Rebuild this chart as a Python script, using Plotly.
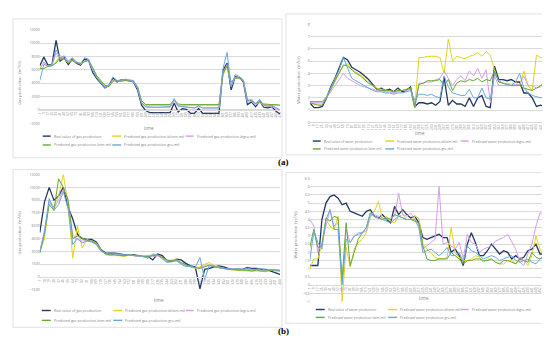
import plotly.graph_objects as go

W, H = 550, 338
def fx(px): return px / W
def fy(py): return 1 - py / H

# ---------------- data ----------------
time_a = [str(1 + 8 * i) for i in range(60)]
gas_a_real = [6600, 7900, 6700, 6800, 10400, 7300, 7800, 6800, 7600, 7000, 6700, 7600, 7400, 5600, 4700, 4000, 3300, 3700, 4800, 4200,
              4500, 4500, 4400, 4200, 3000, 700, -100, -400, -400, -400, -400, -400, -400, 1000, -300, 200, 100, -500, -500, 200,
              -500, -500, -500, -500, -500, 5900, 7000, 3000, 5000, 4800, 4200, 800, 1200, 500, 1300, 400, 300, 500, -200, -600]
gas_a_bilstm = [6300, 7000, 6600, 6700, 7200, 8200, 7500, 7200, 7300, 7200, 6900, 7300, 7500, 6200, 5000, 4300, 3600, 3600, 4400, 4400,
                4300, 4500, 4400, 4300, 3400, 1300, 700, 700, 700, 700, 700, 700, 700, 1300, 700, 700, 700, 700, 700, 700,
                700, 700, 700, 700, 700, 5200, 6500, 4000, 4800, 4800, 4300, 1400, 1300, 900, 1100, 800, 700, 700, 700, 700]
gas_a_bigru = [6000, 7200, 6500, 6700, 8500, 7600, 7700, 7000, 7500, 7100, 6800, 7400, 7400, 5900, 4900, 4200, 3500, 3600, 4500, 4300,
               4400, 4400, 4400, 4200, 3200, 1000, 400, 400, 400, 400, 400, 400, 400, 1300, 500, 500, 400, 300, 300, 500,
               300, 300, 300, 300, 300, 5500, 6800, 3500, 4900, 4700, 4300, 1100, 1300, 700, 1200, 600, 500, 500, 200, -100]
gas_a_lstm = [6200, 6200, 6500, 6600, 7000, 7800, 7600, 7100, 7400, 7000, 7000, 7200, 7400, 6300, 5100, 4400, 3700, 3500, 4300, 4400,
              4300, 4400, 4400, 4300, 3500, 1400, 800, 800, 800, 800, 800, 800, 800, 1500, 900, 800, 800, 800, 800, 800,
              800, 800, 800, 800, 800, 5400, 6600, 4200, 4700, 4800, 4400, 1500, 1400, 1000, 1200, 900, 800, 800, 800, 700]
gas_a_gru = [4400, 6800, 6600, 6800, 9000, 7800, 8100, 7300, 7800, 7200, 6900, 7800, 7600, 6000, 4800, 4100, 3300, 3800, 4900, 4400,
             4500, 4600, 4500, 4400, 3300, 1100, 500, 400, 400, 400, 400, 400, 500, 1700, 600, 500, 400, 300, 300, 600,
             300, 300, 300, 300, 300, 6200, 8600, 3500, 5300, 5000, 4500, 1300, 1600, 900, 1600, 700, 600, 700, 400, 0]

time_b = [str(1 + 8 * i) for i in range(58)]
water_b_real = [1.6, 1.2, 1.2, 1.3, 2.0, 2.9, 3.6, 4.4, 5.3, 5.1, 4.5, 4.3, 4.1, 3.8, 3.5, 3.1, 2.7, 2.8, 2.6, 2.7,
                2.5, 2.8, 2.5, 2.6, 2.9, 1.3, 1.6, 1.6, 1.5, 1.6, 1.4, 1.7, 3.7, 1.4, 1.8, 1.5, 1.5, 1.3, 2.0, 1.3,
                2.0, 2.2, 1.3, 1.2, 4.6, 3.5, 3.5, 3.4, 3.5, 3.3, 3.3, 2.4, 2.4, 2.0, 1.3, 1.4, 1.3, 1.3]
water_b_bilstm = [1.6, 1.5, 1.5, 1.5, 2.0, 2.6, 3.3, 4.0, 4.6, 4.8, 4.3, 4.1, 3.9, 3.6, 3.3, 3.0, 2.8, 2.7, 2.6, 2.6,
                  2.5, 2.6, 2.6, 2.7, 2.8, 1.2, 5.3, 5.3, 5.4, 5.4, 5.4, 5.3, 4.0, 6.8, 5.0, 5.4, 5.3, 5.2, 5.4, 5.5,
                  5.7, 5.4, 5.8, 5.5, 4.3, 3.3, 3.2, 3.2, 3.1, 3.3, 3.0, 4.2, 3.0, 2.6, 5.5, 5.3, 5.3, 5.1]
water_b_bigru = [1.6, 1.6, 1.6, 1.6, 2.0, 2.5, 3.1, 3.6, 4.0, 3.6, 3.4, 3.2, 3.0, 2.9, 2.8, 2.7, 2.6, 2.6, 2.5, 2.5,
                 2.4, 2.5, 2.6, 2.6, 2.7, 1.2, 3.2, 3.2, 3.3, 3.3, 3.5, 3.6, 4.2, 3.6, 3.0, 3.5, 3.8, 3.4, 4.2, 3.8,
                 4.4, 3.6, 4.3, 1.6, 3.8, 3.0, 3.0, 3.0, 3.0, 3.1, 3.1, 3.8, 3.0, 3.0, 2.8, 2.9, 3.2, 3.5]
water_b_lstm = [1.6, 1.5, 1.4, 1.4, 2.0, 2.7, 3.4, 4.1, 4.7, 4.6, 4.3, 4.0, 3.8, 3.5, 3.2, 3.0, 2.7, 2.6, 2.6, 2.6,
                2.5, 2.6, 2.6, 2.7, 2.8, 1.2, 3.1, 3.2, 3.4, 3.4, 3.4, 3.5, 3.0, 3.5, 2.6, 3.2, 3.4, 3.3, 3.5, 3.4,
                3.6, 3.3, 3.5, 3.4, 4.2, 3.3, 3.2, 3.1, 3.0, 3.0, 3.0, 2.8, 2.7, 2.6, 2.8, 3.0, 3.3, 3.5]
water_b_gru = [1.7, 1.7, 1.7, 1.7, 2.1, 2.8, 3.5, 4.3, 5.3, 4.5, 3.6, 3.4, 3.2, 3.0, 2.8, 2.6, 2.5, 2.5, 2.4, 2.4,
               2.3, 2.4, 2.4, 2.5, 2.6, 1.8, 2.3, 2.3, 2.2, 2.3, 2.1, 2.0, 3.8, 2.9, 2.4, 2.3, 2.2, 2.2, 2.7, 2.0,
               2.0, 2.8, 2.0, 1.9, 4.0, 3.4, 3.2, 3.1, 3.0, 3.3, 4.0, 2.8, 2.4, 2.2, 2.1, 2.0, 2.1, 2.2]

time_c = [str(1 + 9 * i) for i in range(52)]
gas_c_real = [5200, 8800, 10500, 9000, 9500, 10500, 8200, 6800, 5000, 4500, 4400, 4400, 4100, 3200, 2800, 2800, 2800, 2700, 2600, 2600,
              2600, 2500, 2400, 2400, 2000, 2700, 2500, 1900, 1800, 2100, 2000, 1600, 1300, 1200, -1400, 900, 1000, 1200, 1300, 1200,
              1000, 900, 900, 900, 1100, 1000, 1000, 900, 900, 700, 500, 300]
gas_c_bilstm = [3000, 4500, 9000, 8200, 9500, 12000, 8500, 2200, 6000, 3400, 4400, 4200, 4000, 3200, 2600, 2500, 2500, 2500, 2400, 2600,
                2500, 2400, 2500, 2500, 2600, 2500, 2200, 1900, 2000, 2100, 1600, 1300, 1200, 1000, 1200, 1500, 1700, 1300, 1200, 1000,
                900, 800, 800, 800, 700, 700, 700, 700, 600, 800, 900, 800]
gas_c_bigru = [2900, 5500, 8800, 8000, 9000, 10300, 9200, 5000, 4400, 4200, 4300, 4200, 3900, 3100, 2700, 2600, 2700, 2600, 2500, 2600,
               2500, 2400, 2400, 2500, 2400, 2500, 2200, 1900, 1900, 1900, 1600, 1400, 1200, 1100, 1100, 1300, 1300, 1200, 1100, 1000,
               900, 1000, 900, 900, 900, 800, 900, 800, 800, 800, 700, 700]
gas_c_lstm = [2800, 5000, 8500, 7800, 11500, 10500, 9000, 4500, 4800, 4500, 4300, 4200, 3900, 3100, 2700, 2600, 2600, 2500, 2500, 2600,
              2500, 2500, 2400, 2400, 2500, 2600, 2300, 2000, 1900, 2000, 1700, 1400, 1200, 1100, 1000, 1200, 1400, 1200, 1100, 1000,
              900, 900, 800, 800, 800, 700, 800, 700, 700, 800, 800, 700]
gas_c_gru = [3000, 5200, 9200, 7800, 8500, 10000, 8000, 3800, 4500, 4000, 4200, 4100, 3800, 3000, 2800, 2700, 2700, 2700, 2600, 2600,
             2500, 2500, 2400, 2200, 2700, 2600, 2100, 1700, 1800, 1900, 1500, 1200, 1300, 1100, 2300, -300, 1400, 1300, 1100, 1000,
             1000, 900, 1000, 900, 1000, 900, 900, 1000, 800, 900, 800, 800]

time_d = [str(1 + 8 * i) for i in range(60)]
water_d_real = [1.2, 1.2, 1.2, 4.0, 5.0, 5.4, 5.5, 5.3, 4.9, 5.0, 4.5, 4.4, 4.3, 4.2, 4.5, 4.6, 4.2, 4.1, 4.3, 4.0,
                3.8, 4.8, 4.3, 4.6, 4.3, 4.1, 4.2, 3.8, 2.9, 2.8, 2.9, 3.0, 3.1, 2.9, 2.9, 2.0, 2.2, 1.8, 1.2, 2.5,
                3.2, 2.6, 1.8, 1.8, 2.1, 2.5, 2.2, 1.9, 2.1, 2.0, 1.6, 1.8, 1.6, 1.7, 2.1, 2.2, 2.5, 1.9, 1.9, 1.6]
water_d_bilstm = [1.0, 1.6, 1.6, 2.5, 4.0, 3.6, 3.4, 4.2, -1.0, 2.3, 1.1, 2.2, 2.6, 2.8, 3.2, 4.2, 4.5, 5.1, 4.0, 4.2,
                  3.9, 3.8, 4.2, 4.3, 4.0, 4.0, 4.2, 4.1, 2.5, 2.2, 2.0, 1.7, 1.6, 1.6, 1.7, 3.5, 2.0, 1.7, 1.5, 1.5,
                  1.6, 1.8, 1.7, 1.4, 1.6, 1.6, 1.4, 1.3, 1.3, 1.5, 1.5, 1.3, 1.7, 1.5, 1.2, 1.8, 3.0, 2.2, 1.7, 3.3]
water_d_bigru = [4.0, 3.6, 2.0, 2.6, 3.6, 4.6, 3.6, 3.8, 0.2, 3.4, 2.6, 3.0, 3.2, 3.2, 3.3, 4.2, 4.3, 4.2, 4.1, 4.0,
                 4.1, 4.2, 5.6, 4.3, 4.2, 4.4, 4.0, 3.7, 2.2, 2.4, 2.6, 2.8, 6.0, 2.5, 2.6, 2.4, 2.2, 2.6, 1.6, 3.1,
                 2.6, 2.5, 2.0, 2.2, 2.3, 2.4, 2.7, 2.8, 2.9, 3.1, 2.6, 2.2, 1.4, 1.2, 1.9, 2.5, 3.6, 4.4, 4.4, 4.3]
water_d_lstm = [2.3, 3.4, 2.3, 2.4, 4.1, 3.9, 4.2, 4.1, 0.3, 3.8, 1.2, 2.0, 2.8, 3.2, 3.5, 4.4, 4.2, 4.1, 4.0, 4.1,
                4.0, 4.3, 4.2, 4.1, 4.0, 4.0, 3.9, 3.8, 2.4, 1.6, 1.5, 1.5, 1.6, 1.6, 1.6, 2.0, 1.8, 1.6, 1.3, 1.5,
                1.5, 1.6, 1.6, 1.5, 1.5, 1.6, 1.4, 1.3, 1.5, 1.5, 1.4, 1.3, 1.6, 1.5, 1.4, 2.0, 1.7, 1.6, 1.8, 1.7]
water_d_gru = [1.5, 3.3, 2.6, 2.2, 4.0, 4.6, 3.4, 3.4, 0.0, 2.8, 2.6, 3.0, 3.1, 3.2, 3.5, 4.4, 4.2, 4.1, 4.0, 3.9,
               3.8, 4.0, 4.2, 4.1, 4.0, 4.0, 4.0, 3.5, 2.0, 2.1, 2.2, 2.0, 1.8, 2.0, 2.3, 1.8, 1.8, 2.0, 1.4, 2.4,
               2.1, 2.0, 1.8, 1.6, 1.7, 1.8, 1.7, 1.5, 1.6, 1.7, 1.8, 1.5, 1.4, 1.5, 1.6, 1.4, 1.3, 1.6, 1.7, 1.4]

names_gas = ["Real value of gas production", "Predicted gas production-bilstm-mtl",
             "Predicted gas production-bigru-mtl", "Predicted gas production-lstm-mtl",
             "Predicted gas production-gru-mtl"]
names_water = ["Real value of water production", "Predicted water production-bilstm-mtl",
               "Predicted water production-bigru-mtl", "Predicted water production-lstm-mtl",
               "Predicted water production-gru-mtl"]

# ---------------- styling ----------------
COLORS = ["#203864", "#e2d31f", "#d59fe8", "#63a832", "#6aa7dc"]
WIDTHS = [1.3, 1.0, 1.0, 1.0, 1.0]
GRID = "#d9d9d9"
TXT = "#7f7f7f"
FONT = "Open Sans"

panels = [
    dict(times=time_a, series=[gas_a_real, gas_a_bilstm, gas_a_bigru, gas_a_lstm, gas_a_gru], names=names_gas,
         x0=30, x1=272, ytop=19, ybot=114, rng=[-2000, 12000], dtick=2000, fmt="d",
         ytitle="Gas production（m³/d）", ytx=10, yty=72, timexy=(140, 119),
         box=(3, 8, 274, 149), lsize=3.6,
         leg=[(33, 41, 42, 127), (103, 112, 113, 127), (177, 185, 186, 127), (33, 41, 42, 136), (103, 112, 113, 136)]),
    dict(times=time_b, series=[water_b_real, water_b_bilstm, water_b_bigru, water_b_lstm, water_b_gru], names=names_water,
         x0=302, x1=543, ytop=13.7, ybot=113, rng=[0, 8], dtick=1, fmt="",
         ytitle="Water production（m³/d）", ytx=291, yty=69, timexy=(413, 124),
         box=(278, 3, 548, 146), lsize=3.4,
         leg=[(305, 313, 314, 132), (378, 387, 388, 132), (454, 462, 463, 132), (305, 313, 314, 140), (378, 387, 388, 140)]),
    dict(times=time_c, series=[gas_c_real, gas_c_bilstm, gas_c_bigru, gas_c_lstm, gas_c_gru], names=names_gas,
         x0=30, x1=272, ytop=166, ybot=283, rng=[-1500, 12000], dtick=1500, fmt="d",
         ytitle="Gas production（m³/d）", ytx=10, yty=224, timexy=(150, 293),
         box=(3, 161, 274, 321), lsize=3.6,
         leg=[(32, 41, 42, 304), (104, 113, 114, 304), (177, 185, 186, 304), (32, 41, 42, 314), (104, 113, 114, 314)]),
    dict(times=time_d, series=[water_d_real, water_d_bilstm, water_d_bigru, water_d_lstm, water_d_gru], names=names_water,
         x0=302, x1=542, ytop=170, ybot=295, rng=[-1, 6.5], dtick=0.5, fmt="",
         ytitle="Water production（m³/d）", ytx=288, yty=226, timexy=(417, 291),
         box=(278, 164, 548, 317), lsize=3.4,
         leg=[(308, 317, 318, 303), (381, 390, 391, 303), (454, 462, 463, 303), (308, 317, 318, 311), (381, 390, 391, 311)]),
]

fig = go.Figure()
shapes = []
annotations = []
layout_axes = {}

for k, p in enumerate(panels):
    sfx = "" if k == 0 else str(k + 1)
    xref, yref = "x" + sfx, "y" + sfx
    lo, hi = p["rng"]
    zero_px = p["ytop"] + (hi - 0) / (hi - lo) * (p["ybot"] - p["ytop"])
    for s, (vals, name) in enumerate(zip(p["series"], p["names"])):
        fig.add_trace(go.Scatter(x=p["times"], y=vals, mode="lines", name=name,
                                 line=dict(color=COLORS[s], width=WIDTHS[s]),
                                 xaxis=xref, yaxis=yref, showlegend=False))
    layout_axes["xaxis" + sfx] = dict(
        domain=[fx(p["x0"]), fx(p["x1"])], anchor="free", position=fy(zero_px),
        type="category", tickmode="array", tickvals=p["times"], ticktext=p["times"],
        tickangle=-90, tickfont=dict(size=3.2, color=TXT, family=FONT),
        showline=True, linecolor=GRID, linewidth=0.8, showgrid=False, ticks="",
        zeroline=False)
    layout_axes["yaxis" + sfx] = dict(
        domain=[fy(p["ybot"]), fy(p["ytop"])], anchor="free", position=fx(p["x0"]),
        range=[lo, hi], dtick=p["dtick"], tick0=0, showgrid=True, gridcolor=GRID, gridwidth=0.6,
        zeroline=False, showline=False, ticks="", tickformat=p["fmt"], exponentformat="none",
        tickfont=dict(size=3.6, color=TXT, family=FONT))
    # panel border
    bx0, by0, bx1, by1 = p["box"]
    shapes.append(dict(type="rect", xref="paper", yref="paper", x0=fx(bx0), x1=fx(bx1),
                       y0=fy(by1), y1=fy(by0), line=dict(color=GRID, width=0.8)))
    # axis titles
    annotations.append(dict(text=p["ytitle"], xref="paper", yref="paper", x=fx(p["ytx"]), y=fy(p["yty"]),
                            textangle=-90, showarrow=False, font=dict(size=4, color=TXT, family=FONT),
                            xanchor="center", yanchor="middle"))
    annotations.append(dict(text="time", xref="paper", yref="paper", x=fx(p["timexy"][0]), y=fy(p["timexy"][1]),
                            showarrow=False, font=dict(size=4.5, color=TXT, family=FONT),
                            xanchor="center", yanchor="middle"))
    # hand-drawn legend
    for s, (lx0, lx1, tx, ly) in enumerate(p["leg"]):
        shapes.append(dict(type="line", xref="paper", yref="paper", x0=fx(lx0), x1=fx(lx1),
                           y0=fy(ly), y1=fy(ly), line=dict(color=COLORS[s], width=1.4)))
        annotations.append(dict(text=p["names"][s], xref="paper", yref="paper", x=fx(tx), y=fy(ly),
                                showarrow=False, font=dict(size=p["lsize"], color=TXT, family=FONT),
                                xanchor="left", yanchor="middle"))

for lab, ypx in [("(a)", 153), ("(b)", 325)]:
    annotations.append(dict(text="<b>%s</b>" % lab, xref="paper", yref="paper", x=fx(276), y=fy(ypx),
                            showarrow=False, font=dict(size=9, color="black", family="Liberation Serif"),
                            xanchor="center", yanchor="middle"))

fig.update_layout(width=W, height=H, margin=dict(l=0, r=0, t=0, b=0),
                  paper_bgcolor="white", plot_bgcolor="white",
                  shapes=shapes, annotations=annotations, **layout_axes)

fig.write_html("out.html")
